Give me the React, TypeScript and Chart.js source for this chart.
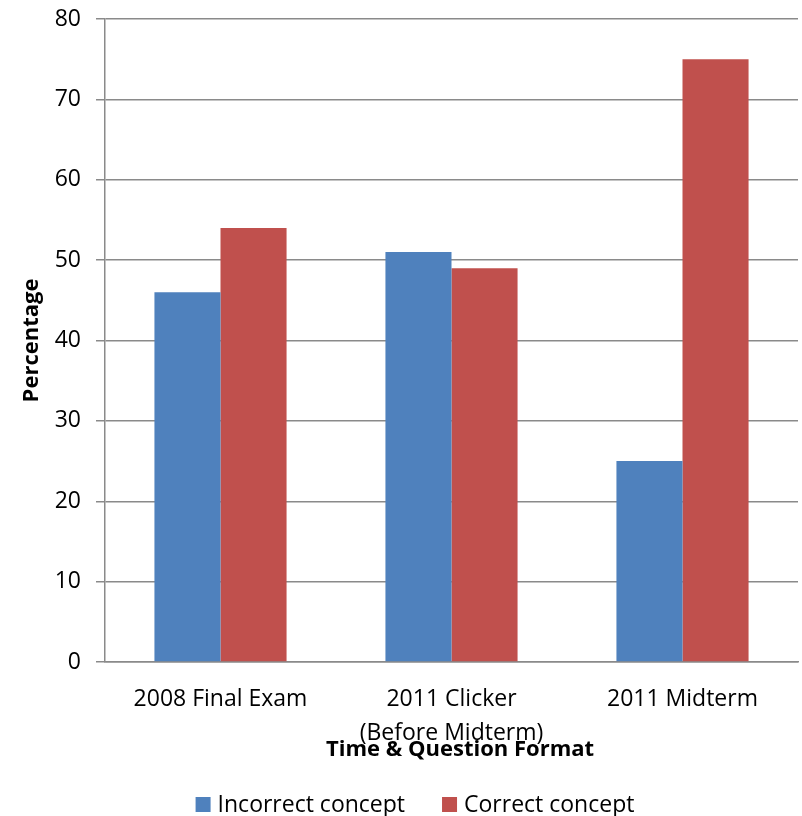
import React, { useEffect, useRef } from "react";
import { Chart, registerables } from "chart.js";

Chart.register(...registerables);

const categories: (string | string[])[] = [
  "2008 Final Exam",
  ["2011 Clicker", "(Before Midterm)"],
  "2011 Midterm",
];
const incorrectConcept = [46, 51, 25];
const correctConcept = [54, 49, 75];
const seriesNames = ["Incorrect concept", "Correct concept"];
const seriesColors = ["#4F81BD", "#C0504D"];
const yTitle = "Percentage";
const xTitle = "   Time & Question Format";

const FONT = "'Open Sans', 'DejaVu Sans', sans-serif";
const GRID = "#8a8a8a";

// Legend drawn below the axis title: colour squares followed by the series names.
const bottomLegend = {
  id: "bottomLegend",
  afterDraw(chart: any) {
    const ctx = chart.ctx as CanvasRenderingContext2D;
    const box = 15;
    const gap = 7;
    const spacing = 37;
    const baseline = chart.height - 4;
    const centerX = chart.width / 2 + 15;
    ctx.save();
    ctx.font = `23px ${FONT}`;
    ctx.textBaseline = "alphabetic";
    ctx.textAlign = "left";
    const items = chart.data.datasets.map((d: any) => ({
      text: d.label as string,
      color: d.backgroundColor as string,
    }));
    const widths = items.map((it: any) => box + gap + ctx.measureText(it.text).width);
    const total = widths.reduce((a: number, b: number) => a + b, 0) + spacing * (items.length - 1);
    let x = centerX - total / 2 - 1;
    items.forEach((it: any, i: number) => {
      ctx.fillStyle = it.color;
      ctx.fillRect(x, baseline - box, box, box);
      ctx.fillStyle = "#000";
      ctx.fillText(it.text, x + box + gap, baseline);
      x += widths[i] + spacing;
    });
    ctx.restore();
  },
};

export default function App() {
  const canvasRef = useRef<HTMLCanvasElement | null>(null);

  useEffect(() => {
    const canvas = canvasRef.current;
    if (!canvas) return;
    const chart = new Chart(canvas, {
      type: "bar",
      data: {
        labels: categories,
        datasets: [
          {
            label: seriesNames[0],
            data: incorrectConcept,
            backgroundColor: seriesColors[0],
            borderWidth: 0,
          },
          {
            label: seriesNames[1],
            data: correctConcept,
            backgroundColor: seriesColors[1],
            borderWidth: 0,
          },
        ],
      },
      options: {
        responsive: false,
        animation: false,
        devicePixelRatio: 1,
        layout: { padding: { left: 0, right: 4, top: 19, bottom: 0 } },
        datasets: {
          bar: { barPercentage: 1, categoryPercentage: 0.572 },
        },
        plugins: {
          legend: { display: false },
          tooltip: { enabled: false },
        },
        scales: {
          x: {
            grid: { display: false, drawTicks: false },
            border: { display: true, color: GRID, width: 1.5 },
            ticks: {
              color: "#000",
              padding: 20,
              font: { family: FONT, size: 23, lineHeight: 1.5 },
              maxRotation: 0,
              autoSkip: false,
            },
            title: {
              display: true,
              text: xTitle,
              color: "#000",
              font: { family: FONT, size: 22, weight: "bold", lineHeight: 1.2 },
              padding: { top: 0, bottom: 53 },
            },
            afterFit(scale: any) {
              scale.height = 154;
            },
          },
          y: {
            min: 0,
            max: 80,
            ticks: {
              stepSize: 10,
              color: "#000",
              padding: 15,
              font: { family: FONT, size: 23 },
            },
            grid: { color: GRID, lineWidth: 1.5, tickLength: 9, drawTicks: true },
            border: { display: true, color: GRID, width: 1.5 },
            title: {
              display: true,
              text: yTitle,
              color: "#000",
              font: { family: FONT, size: 22, weight: "bold", lineHeight: 1.2 },
              padding: { top: 19, bottom: 0 },
            },
            afterFit(scale: any) {
              scale.width = 105;
              scale.paddingTop = 0;
              scale.paddingBottom = 0;
            },
          },
        },
      },
      plugins: [bottomLegend],
    });
    return () => chart.destroy();
  }, []);

  return (
    <div style={{ position: "absolute", left: 0, top: 0, width: 802, height: 816, background: "#fff" }}>
      <canvas ref={canvasRef} width={802} height={816} style={{ display: "block" }} />
    </div>
  );
}
